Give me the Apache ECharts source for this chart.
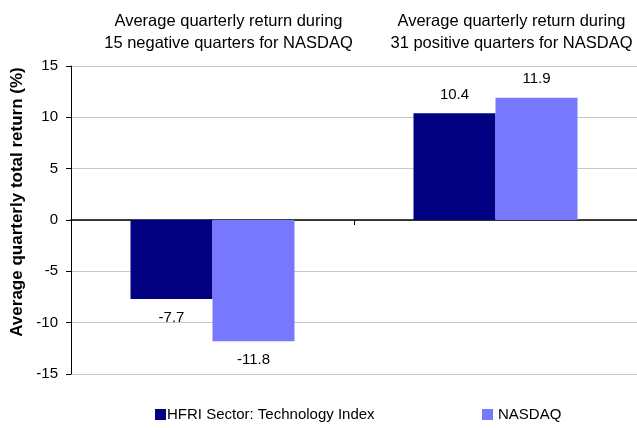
<!DOCTYPE html>
<html lang="en">
<head>
  <meta charset="UTF-8">
  <title>Average quarterly return</title>
  <script src="https://cdn.jsdelivr.net/npm/echarts@6.0.0/dist/echarts.min.js"></script>
  <style>
    body { margin: 0; padding: 0; background: #fff; }
    #chart { width: 637px; height: 428px; }
  </style>
</head>
<body>
  <div id="chart"></div>
  <script>
    // data
    var categories = [
      'Average quarterly return during\n15 negative quarters for NASDAQ',
      'Average quarterly return during\n31 positive quarters for NASDAQ'
    ];
    var hfriValues = [-7.7, 10.4];
    var nasdaqValues = [-11.8, 11.9];
    var seriesNames = ['HFRI Sector: Technology Index', 'NASDAQ'];
    var yTicks = [-15, -10, -5, 0, 5, 10, 15];

    var font = 'Liberation Sans, Arial, sans-serif';
    var chart = echarts.init(document.getElementById('chart'));

    function barLabel() {
      return {
        show: true,
        position: 'outside',
        distance: 11,
        color: '#000',
        fontFamily: font,
        fontSize: 15
      };
    }

    chart.setOption({
      animation: false,
      grid: { left: 71, top: 66, width: 575, height: 308 },
      legend: [
        {
          data: [seriesNames[0]],
          left: 150, top: 402,
          itemWidth: 11, itemHeight: 11, icon: 'rect',
          textStyle: { fontFamily: font, fontSize: 15, color: '#000', padding: [0, 0, 0, -4] }
        },
        {
          data: [seriesNames[1]],
          left: 477, top: 402,
          itemWidth: 11, itemHeight: 11, icon: 'rect',
          textStyle: { fontFamily: font, fontSize: 15, color: '#000' }
        }
      ],
      xAxis: [
        {
          type: 'category',
          data: categories,
          position: 'bottom',
          axisLine: { onZero: true, lineStyle: { color: '#000', width: 1.5 } },
          axisTick: { show: true, length: 5, lineStyle: { color: '#000' } },
          axisLabel: { show: false },
          splitLine: { show: false }
        },
        {
          type: 'category',
          data: categories,
          position: 'top',
          axisLine: { show: false },
          axisTick: { show: false },
          axisLabel: {
            show: true, interval: 0, margin: 12, color: '#000',
            fontFamily: font, fontSize: 16.5, lineHeight: 22,
            padding: [0, 0, 0, 32]
          }
        }
      ],
      yAxis: {
        type: 'value',
        min: yTicks[0],
        max: yTicks[yTicks.length - 1],
        interval: 5,
        name: 'Average quarterly total return (%)',
        nameLocation: 'middle',
        nameGap: 40,
        nameTextStyle: {
          fontFamily: font, fontSize: 17, fontWeight: 'bold', color: '#000',
          padding: [0, 0, 0, 36]
        },
        axisLine: { show: true, lineStyle: { color: '#000' } },
        axisTick: { show: true, length: 5, lineStyle: { color: '#000' } },
        axisLabel: { color: '#000', fontFamily: font, fontSize: 15, margin: 13 },
        splitLine: { show: true, lineStyle: { color: '#c8c8c8', width: 1 } }
      },
      series: [
        {
          name: seriesNames[0],
          type: 'bar',
          data: hfriValues,
          barWidth: 82,
          barGap: '0%',
          itemStyle: { color: '#000080' },
          label: barLabel()
        },
        {
          name: seriesNames[1],
          type: 'bar',
          data: nasdaqValues,
          barWidth: 82,
          barGap: '0%',
          itemStyle: { color: '#7878ff' },
          label: barLabel()
        }
      ]
    });
  </script>
</body>
</html>
